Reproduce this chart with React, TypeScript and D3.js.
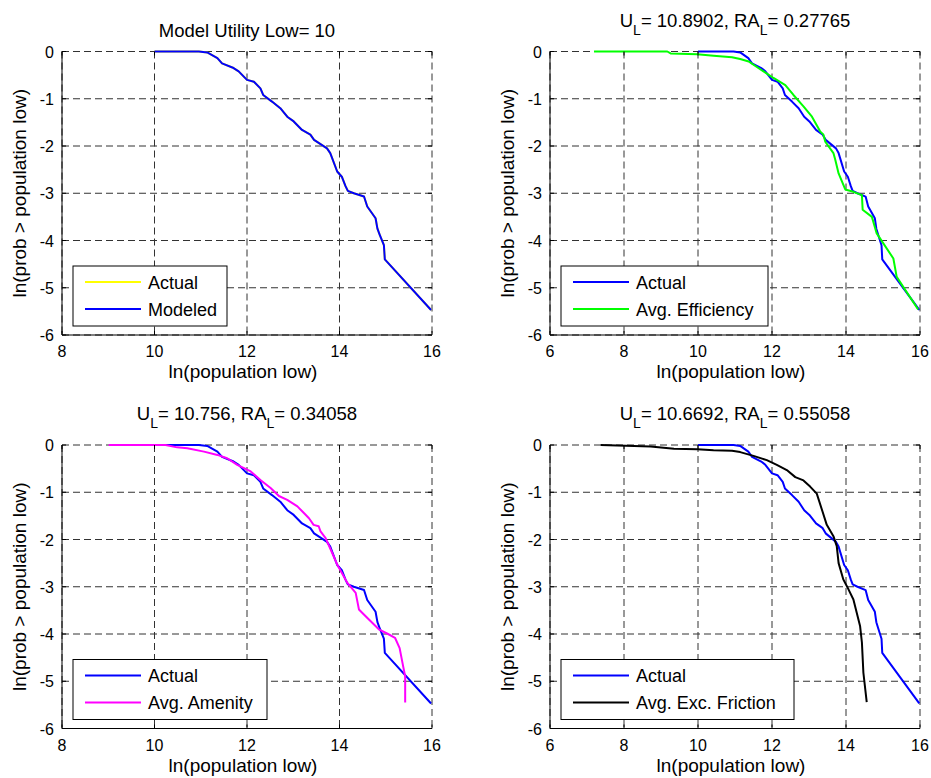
import React from 'react';
import * as d3 from 'd3';

// ---- Data ----
const actualX = [10.0, 10.96, 11.14, 11.36, 11.46, 11.71, 11.82, 12.0, 12.15, 12.29, 12.35, 12.54, 12.72, 12.87, 13.01, 13.19, 13.37, 13.45, 13.73, 13.8, 13.95, 14.05, 14.13, 14.18, 14.31, 14.53, 14.6, 14.78, 14.82, 14.87, 14.96, 14.98, 15.98];
const actualY = [0, 0, -0.02, -0.14, -0.25, -0.35, -0.42, -0.6, -0.64, -0.78, -0.92, -1.06, -1.2, -1.38, -1.48, -1.66, -1.76, -1.87, -2.05, -2.15, -2.54, -2.65, -2.85, -2.95, -3.0, -3.07, -3.28, -3.53, -3.75, -3.88, -4.1, -4.4, -5.47];

const efficiencyX = [7.19, 9.17, 9.26, 9.98, 10.42, 10.92, 11.14, 11.37, 11.5, 11.77, 12.04, 12.36, 12.58, 12.85, 13.08, 13.3, 13.39, 13.44, 13.66, 13.71, 13.8, 13.89, 13.98, 14.2, 14.43, 14.45, 14.7, 14.83, 15.28, 15.37, 15.95];
const efficiencyY = [0, 0, -0.04, -0.06, -0.09, -0.12, -0.16, -0.21, -0.28, -0.42, -0.56, -0.71, -0.92, -1.16, -1.38, -1.69, -1.76, -1.91, -2.15, -2.29, -2.58, -2.75, -2.92, -2.97, -3.04, -3.35, -3.5, -3.85, -4.38, -4.77, -5.46];

const amenityX = [9.01, 10.24, 10.49, 10.71, 11.07, 11.36, 11.57, 11.79, 12.08, 12.29, 12.51, 12.69, 12.87, 13.09, 13.23, 13.34, 13.44, 13.55, 13.59, 13.7, 13.84, 13.95, 14.09, 14.17, 14.35, 14.42, 14.56, 14.85, 15.05, 15.2, 15.3, 15.38, 15.42, 15.42];
const amenityY = [0, 0, -0.05, -0.07, -0.14, -0.21, -0.28, -0.42, -0.56, -0.74, -0.91, -1.08, -1.16, -1.3, -1.44, -1.55, -1.69, -1.72, -1.83, -1.97, -2.28, -2.53, -2.78, -2.92, -3.13, -3.48, -3.62, -3.9, -4.0, -4.08, -4.3, -4.7, -4.9, -5.45];

const frictionX = [7.37, 8.72, 9.35, 9.98, 10.42, 10.92, 11.14, 11.5, 11.86, 12.13, 12.4, 12.63, 12.85, 13.03, 13.21, 13.35, 13.48, 13.66, 13.75, 13.8, 13.93, 14.07, 14.2, 14.38, 14.43, 14.47, 14.56];
const frictionY = [0, -0.03, -0.08, -0.09, -0.11, -0.12, -0.15, -0.23, -0.32, -0.42, -0.53, -0.68, -0.75, -0.88, -1.03, -1.37, -1.69, -1.93, -2.14, -2.5, -2.85, -3.06, -3.27, -3.83, -4.18, -4.82, -5.44];

const xTicksNarrow = [8, 10, 12, 14, 16];
const xTicksWide = [6, 8, 10, 12, 14, 16];
const yTicks = [0, -1, -2, -3, -4, -5, -6];

const xLabel = 'ln(population low)';
const yLabel = 'ln(prob > population low)';

type Seg = { t: string; sub?: boolean };
const title1: Seg[] = [{ t: 'Model Utility Low= 10' }];
const title2: Seg[] = [{ t: 'U' }, { t: 'L', sub: true }, { t: '= 10.8902, RA' }, { t: 'L', sub: true }, { t: '= 0.27765' }];
const title3: Seg[] = [{ t: 'U' }, { t: 'L', sub: true }, { t: '= 10.756, RA' }, { t: 'L', sub: true }, { t: '= 0.34058' }];
const title4: Seg[] = [{ t: 'U' }, { t: 'L', sub: true }, { t: '= 10.6692, RA' }, { t: 'L', sub: true }, { t: '= 0.55058' }];

type Series = { name: string; color: string; xs: number[]; ys: number[] };

type PanelCfg = {
  left: number;
  top: number;
  xDomain: [number, number];
  xTicks: number[];
  title: Seg[];
  series: Series[];
  legendWidth: number;
};

const FONT = '"Liberation Sans", Arial, Helvetica, sans-serif';
const W = 370;
const H = 283.5;

const panels: PanelCfg[] = [
  {
    left: 62, top: 51.5, xDomain: [8, 16], xTicks: xTicksNarrow, title: title1, legendWidth: 154,
    series: [
      { name: 'Actual', color: '#FFFF00', xs: actualX, ys: actualY },
      { name: 'Modeled', color: '#0000FF', xs: actualX, ys: actualY },
    ],
  },
  {
    left: 550, top: 51.5, xDomain: [6, 16], xTicks: xTicksWide, title: title2, legendWidth: 207,
    series: [
      { name: 'Actual', color: '#0000FF', xs: actualX, ys: actualY },
      { name: 'Avg. Efficiency', color: '#00FF00', xs: efficiencyX, ys: efficiencyY },
    ],
  },
  {
    left: 62, top: 445, xDomain: [8, 16], xTicks: xTicksNarrow, title: title3, legendWidth: 194,
    series: [
      { name: 'Actual', color: '#0000FF', xs: actualX, ys: actualY },
      { name: 'Avg. Amenity', color: '#FF00FF', xs: amenityX, ys: amenityY },
    ],
  },
  {
    left: 550, top: 445, xDomain: [6, 16], xTicks: xTicksWide, title: title4, legendWidth: 233,
    series: [
      { name: 'Actual', color: '#0000FF', xs: actualX, ys: actualY },
      { name: 'Avg. Exc. Friction', color: '#000000', xs: frictionX, ys: frictionY },
    ],
  },
];

function Title({ segs, cx, y }: { segs: Seg[]; cx: number; y: number }) {
  let shifted = false;
  return (
    <text x={cx} y={y} textAnchor="middle" fontFamily={FONT} fontSize={18.5} fill="#000">
      {segs.map((s, i) => {
        let dy = 0;
        if (s.sub && !shifted) { dy = 8; shifted = true; }
        else if (!s.sub && shifted) { dy = -8; shifted = false; }
        return (
          <tspan key={i} dy={dy} fontSize={s.sub ? 14 : 18.5}>{s.t}</tspan>
        );
      })}
    </text>
  );
}

function Panel({ cfg }: { cfg: PanelCfg }) {
  const x = d3.scaleLinear().domain(cfg.xDomain).range([cfg.left, cfg.left + W]);
  const y = d3.scaleLinear().domain([-6, 0]).range([cfg.top + H, cfg.top]);
  const line = d3.line<[number, number]>().x((d) => x(d[0])).y((d) => y(d[1]));
  const hasSub = cfg.title.some((s) => s.sub);
  const bottom = cfg.top + H;
  const right = cfg.left + W;
  const tickLen = 4;
  const lg = { x: cfg.left + 11, y: cfg.top + 214.5, w: cfg.legendWidth, h: 60 };
  return (
    <g>
      {/* grid */}
      <g stroke="#000" strokeWidth={1} strokeDasharray="7,4" opacity={0.8}>
        {cfg.xTicks.map((t) => (
          <line key={'gx' + t} x1={x(t)} x2={x(t)} y1={cfg.top} y2={bottom} />
        ))}
        {yTicks.map((t) => (
          <line key={'gy' + t} x1={cfg.left} x2={right} y1={y(t)} y2={y(t)} />
        ))}
      </g>
      {/* series */}
      {cfg.series.map((s, i) => (
        <path
          key={'s' + i}
          d={line(d3.zip(s.xs, s.ys) as [number, number][]) || ''}
          fill="none"
          stroke={s.color}
          strokeWidth={2}
          strokeLinejoin="round"
        />
      ))}
      {/* axes */}
      <g stroke="#000" strokeWidth={1}>
        <line x1={cfg.left} x2={cfg.left} y1={cfg.top} y2={bottom} />
        <line x1={cfg.left} x2={right} y1={bottom} y2={bottom} />
        {cfg.xTicks.map((t) => (
          <g key={'tx' + t}>
            <line x1={x(t)} x2={x(t)} y1={bottom} y2={bottom - tickLen} />
            <line x1={x(t)} x2={x(t)} y1={cfg.top} y2={cfg.top + tickLen} />
          </g>
        ))}
        {yTicks.map((t) => (
          <g key={'ty' + t}>
            <line x1={cfg.left} x2={cfg.left + tickLen} y1={y(t)} y2={y(t)} />
            <line x1={right} x2={right - tickLen} y1={y(t)} y2={y(t)} />
          </g>
        ))}
      </g>
      {/* tick labels */}
      <g fontFamily={FONT} fontSize={16} fill="#000">
        {cfg.xTicks.map((t) => (
          <text key={'lx' + t} x={x(t)} y={bottom + 22} textAnchor="middle">{t}</text>
        ))}
        {yTicks.map((t) => (
          <text key={'ly' + t} x={cfg.left - 8} y={y(t) + 6} textAnchor="end">{t}</text>
        ))}
      </g>
      {/* axis labels */}
      <text x={cfg.left + W / 2 - 4} y={bottom + 43} textAnchor="middle" fontFamily={FONT} fontSize={19}>{xLabel}</text>
      <text
        transform={`translate(${cfg.left - 36},${cfg.top + H / 2}) rotate(-90)`}
        textAnchor="middle"
        fontFamily={FONT}
        fontSize={19}
      >{yLabel}</text>
      {/* title */}
      <Title segs={cfg.title} cx={cfg.left + W / 2} y={hasSub ? cfg.top - 25 : cfg.top - 15} />
      {/* legend */}
      <g>
        <rect x={lg.x} y={lg.y} width={lg.w} height={lg.h} fill="#fff" stroke="#000" strokeWidth={1} />
        {cfg.series.map((s, i) => {
          const ry = lg.y + 16 + i * 27;
          return (
            <g key={'lg' + i}>
              <line x1={lg.x + 12} x2={lg.x + 68} y1={ry} y2={ry} stroke={s.color} strokeWidth={2} />
              <text x={lg.x + 75} y={ry + 6.5} fontFamily={FONT} fontSize={18} fill="#000">{s.name}</text>
            </g>
          );
        })}
      </g>
    </g>
  );
}

export default function App() {
  return (
    <svg
      width={931}
      height={778}
      viewBox="0 0 931 778"
      style={{ position: 'absolute', left: 0, top: 0, display: 'block', background: '#fff' }}
    >
      <rect x={0} y={0} width={931} height={778} fill="#fff" />
      {panels.map((p, i) => (
        <Panel key={i} cfg={p} />
      ))}
    </svg>
  );
}
